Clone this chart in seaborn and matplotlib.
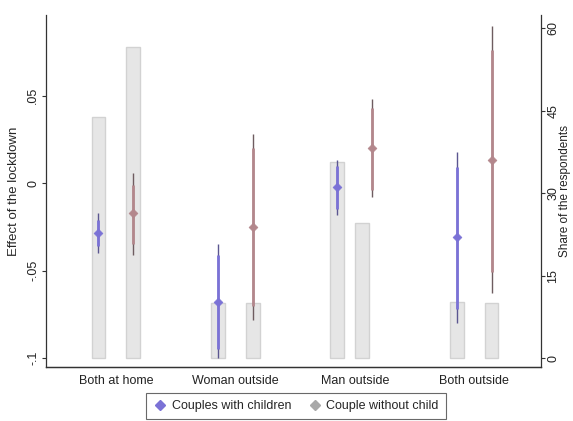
import numpy as np
import pandas as pd
import matplotlib
matplotlib.use("Agg")
import matplotlib.pyplot as plt
from matplotlib.lines import Line2D
import seaborn as sns

# ---------------- data ----------------
categories = ["Both at home", "Woman outside", "Man outside", "Both outside"]
groups = ["Couples with children", "Couple without child"]

effect_children = [-0.0286, -0.068, -0.0023, -0.031]
effect_nochild = [-0.017, -0.025, 0.020, 0.013]

ci95_lo_children = [-0.040, -0.100, -0.018, -0.080]
ci95_hi_children = [-0.017, -0.035, 0.013, 0.018]
ci90_lo_children = [-0.036, -0.095, -0.015, -0.072]
ci90_hi_children = [-0.021, -0.041, 0.010, 0.009]

ci95_lo_nochild = [-0.041, -0.078, -0.008, -0.063]
ci95_hi_nochild = [0.0057, 0.028, 0.048, 0.090]
ci90_lo_nochild = [-0.035, -0.070, -0.004, -0.051]
ci90_hi_nochild = [-0.001, 0.020, 0.043, 0.076]

share_children = [43.9, 10.0, 35.6, 10.2]
share_nochild = [56.5, 10.0, 24.5, 10.0]

left_ticks = [-0.1, -0.05, 0, 0.05]
left_ticklabels = ["-.1", "-.05", "0", ".05"]
right_ticks = [0, 15, 30, 45, 60]

# ---------------- style ----------------
sns.set_theme(style="white")
plt.rcParams["font.family"] = ["Liberation Sans", "DejaVu Sans"]
FS = 9

blue = "#7B72D6"
blue_dark = "#5B5690"
red = "#B3878C"
red_dark = "#6E5C60"
gray_marker = "#A8A8A8"
bar_fill = "#E6E6E6"
bar_edge = "#D2D2D2"

fig = plt.figure(figsize=(5.73, 4.21), dpi=100)
ax = fig.add_axes([46 / 573, 1 - 367 / 421, (541 - 46) / 573, (367 - 15) / 421])
ax2 = ax.twinx()

# ---------------- bars (right axis) ----------------
share_df = pd.DataFrame({
    "category": categories * 2,
    "group": [groups[0]] * 4 + [groups[1]] * 4,
    "share": share_children + share_nochild,
})
sns.barplot(data=share_df, x="category", y="share", hue="group",
            order=categories, hue_order=groups,
            palette=[bar_fill, bar_fill], width=0.58, gap=0.6,
            edgecolor=bar_edge, linewidth=1.0, legend=False, ax=ax2,
            errorbar=None, saturation=1)
# the "Man outside" no-child bar sits slightly off its estimate in the reference
for p in ax2.patches:
    cx = p.get_x() + p.get_width() / 2
    if abs(cx - (2 + 0.145)) < 0.05:
        p.set_x(p.get_x() - 0.087)

ax2.set_ylim(-1.6, 62.4)
ax2.set_yticks(right_ticks)
ax2.set_yticklabels([str(t) for t in right_ticks], rotation=90, va="center", fontsize=FS)
ax2.set_ylabel("")
ax2.set_xlabel("")
fig.text(565 / 573, 1 - 191 / 421, "Share of the respondents", rotation=90,
         ha="center", va="center", fontsize=8.5, color="#222222")

# ---------------- estimates (left axis) ----------------
xpos = np.arange(len(categories))
off = 0.146
series = [
    (xpos - off, effect_children, ci95_lo_children, ci95_hi_children,
     ci90_lo_children, ci90_hi_children, blue, blue_dark),
    (xpos + off, effect_nochild, ci95_lo_nochild, ci95_hi_nochild,
     ci90_lo_nochild, ci90_hi_nochild, red, red_dark),
]
for xs, eff, lo95, hi95, lo90, hi90, col, dcol in series:
    ax.vlines(xs, lo95, hi95, color=dcol, linewidth=1.0, zorder=3)
    ax.vlines(xs, lo90, hi90, color=col, linewidth=2.0, zorder=4)
    sns.scatterplot(x=xs, y=eff, marker="D", s=20, color=col,
                    edgecolor=col, linewidth=0.5, ax=ax, zorder=5, legend=False)

ax.set_xlim(-0.585, 3.56)
ax.set_ylim(-0.105, 0.096)
ax.set_xticks(xpos)
ax.set_xticklabels(categories, fontsize=FS)
ax.set_yticks(left_ticks)
ax.set_yticklabels(left_ticklabels, rotation=90, va="center", fontsize=FS)
ax.set_ylabel("Effect of the lockdown", fontsize=9.5, labelpad=5)

ax.set_zorder(ax2.get_zorder() + 1)
ax.patch.set_visible(False)

for a in (ax, ax2):
    a.spines["top"].set_visible(False)
    for s in ("left", "right", "bottom"):
        a.spines[s].set_color("#333333")
        a.spines[s].set_linewidth(0.9)
    a.tick_params(axis="both", length=3, width=0.8, color="#333333", pad=2,
                  labelcolor="#222222")
ax.tick_params(axis="x", length=0, pad=6)
ax2.tick_params(axis="y", pad=1.5)
ax2.spines["left"].set_visible(False)
ax.spines["right"].set_visible(False)

# ---------------- legend ----------------
handles = [
    Line2D([0], [0], marker="D", linestyle="", color=blue, markersize=5),
    Line2D([0], [0], marker="D", linestyle="", color=gray_marker, markersize=5),
]
leg = fig.legend(handles, groups, loc="center", bbox_to_anchor=(296 / 573, 1 - 406 / 421),
                 ncol=2, fontsize=FS, frameon=True, fancybox=False,
                 handletextpad=0.4, columnspacing=1.3, borderpad=0.55, handlelength=1.1)
leg.get_frame().set_edgecolor("#444444")
leg.get_frame().set_linewidth(0.8)

fig.savefig("out.png", dpi=100)
